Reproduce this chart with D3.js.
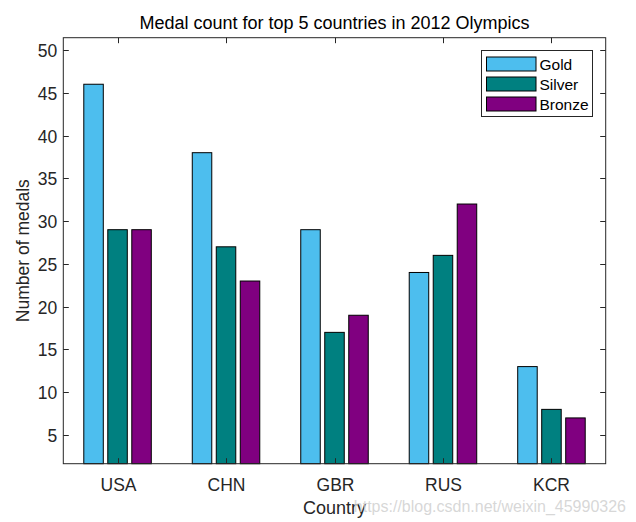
<!DOCTYPE html>
<html><head><meta charset="utf-8">
<script src="https://cdn.jsdelivr.net/npm/d3@7"></script>
<style>body{margin:0;background:#fff;} svg{display:block;}</style>
</head><body>
<svg id="c" width="636" height="522"></svg>
<script>
const countries = ["USA", "CHN", "GBR", "RUS", "KCR"];
const seriesNames = ["Gold", "Silver", "Bronze"];
const gold = [46, 38, 29, 24, 13];
const silver = [29, 27, 17, 26, 8];
const bronze = [29, 23, 19, 32, 7];
const yTicks = [5, 10, 15, 20, 25, 30, 35, 40, 45, 50];
const colors = ["#4DBEEE", "#008080", "#800080"];
const series = [gold, silver, bronze];

const svg = d3.select("#c");
const L = 63.3, R = 605.7, T = 37.7, B = 463.7;
const font = "Liberation Sans, Arial, sans-serif";
const ink = "#262626";

const x = d3.scaleLinear().domain([0.5, 5.5]).range([L, R]);
const y = d3.scaleLinear().domain([1.65, 51.44]).range([B, T]);

// bars
const offsets = [-24, 0, 24], bw = 19.5;
series.forEach((vals, si) => {
  svg.append("g").selectAll("rect").data(vals).join("rect")
    .attr("x", (d, i) => x(i + 1) + offsets[si] - bw / 2)
    .attr("y", d => y(d))
    .attr("width", bw)
    .attr("height", d => B - y(d))
    .attr("fill", colors[si])
    .attr("stroke", "#000").attr("stroke-width", 1);
});

// axes box
svg.append("rect").attr("x", L).attr("y", T).attr("width", R - L).attr("height", B - T)
  .attr("fill", "none").attr("stroke", ink).attr("stroke-width", 1);

// y ticks
const yl = svg.append("g");
yTicks.forEach(t => {
  const yy = Math.round(y(t)) + 0.5;
  yl.append("line").attr("x1", L).attr("x2", L + 5.5).attr("y1", yy).attr("y2", yy).attr("stroke", ink);
  yl.append("line").attr("x1", R).attr("x2", R - 5.5).attr("y1", yy).attr("y2", yy).attr("stroke", ink);
  yl.append("text").attr("x", L - 6).attr("y", yy).attr("dy", "0.35em")
    .attr("text-anchor", "end").attr("font-family", font).attr("font-size", 17.5).attr("fill", ink).text(t);
});

// x ticks
countries.forEach((c, i) => {
  const xx = Math.round(x(i + 1)) + 0.5;
  svg.append("line").attr("x1", xx).attr("x2", xx).attr("y1", B).attr("y2", B - 5.5).attr("stroke", ink);
  svg.append("line").attr("x1", xx).attr("x2", xx).attr("y1", T).attr("y2", T + 5.5).attr("stroke", ink);
  svg.append("text").attr("x", xx).attr("y", 491).attr("text-anchor", "middle")
    .attr("font-family", font).attr("font-size", 17.5).attr("fill", ink).text(c);
});

// title and labels
svg.append("text").attr("x", (L + R) / 2).attr("y", 29).attr("text-anchor", "middle")
  .attr("font-family", font).attr("font-size", 18).attr("fill", "#000").text("Medal count for top 5 countries in 2012 Olympics");
svg.append("text").attr("x", (L + R) / 2).attr("y", 514).attr("text-anchor", "middle")
  .attr("font-family", font).attr("font-size", 18).attr("fill", ink).text("Country");
svg.append("text").attr("transform", `translate(29,${(T + B) / 2}) rotate(-90)`).attr("text-anchor", "middle")
  .attr("font-family", font).attr("font-size", 17.5).attr("fill", ink).text("Number of medals");

// legend
const lg = svg.append("g");
lg.append("rect").attr("x", 481.5).attr("y", 50.5).attr("width", 111).attr("height", 66)
  .attr("fill", "#fff").attr("stroke", ink);
seriesNames.forEach((n, i) => {
  const yy = 57 + i * 20;
  lg.append("rect").attr("x", 486.5).attr("y", yy).attr("width", 49.5).attr("height", 14)
    .attr("fill", colors[i]).attr("stroke", "#000");
  lg.append("text").attr("x", 539.5).attr("y", yy + 7).attr("dy", "0.36em")
    .attr("font-family", font).attr("font-size", 15.5).attr("fill", "#000").text(n);
});

// watermark
svg.append("text").attr("x", 626).attr("y", 512).attr("text-anchor", "end")
  .attr("font-family", font).attr("font-size", 16).attr("fill", "#d0d0d0").attr("fill-opacity", 0.85)
  .text("https://blog.csdn.net/weixin_45990326");
</script>
</body></html>
